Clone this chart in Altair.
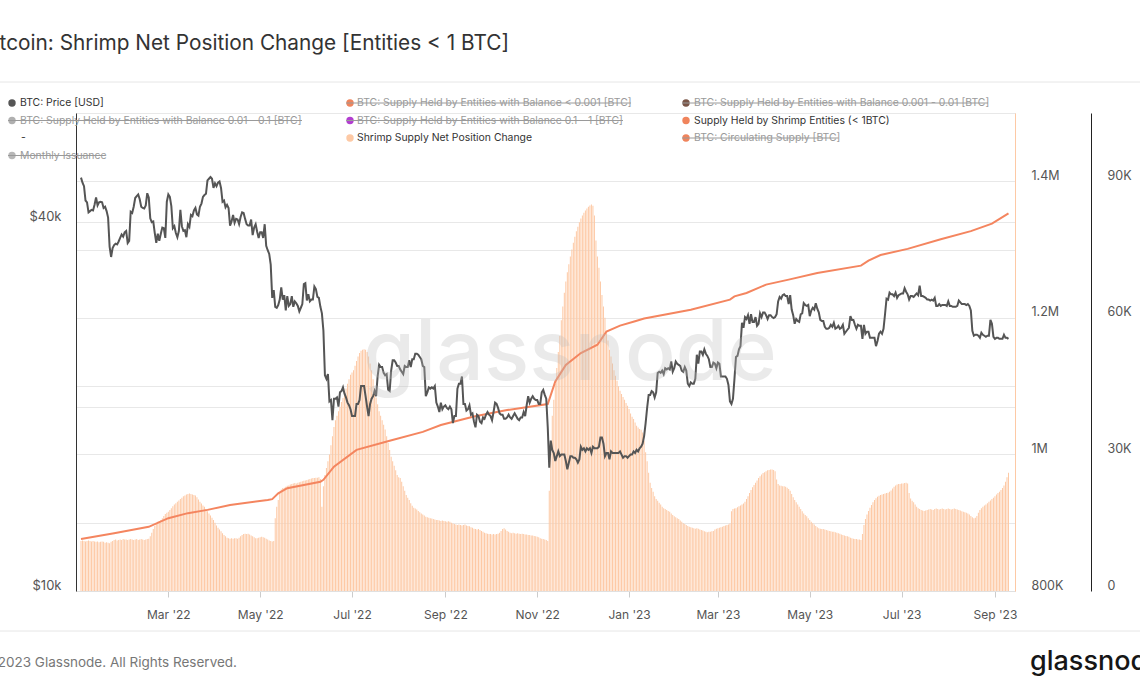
import altair as alt
import pandas as pd

# ---------------- data ----------------
# BTC price, daily, thousands of USD, from 2022-01-02
price_2022_k = [
    47.3, 46.4, 45.8, 43.4, 43.1, 41.5, 41.7, 41.9, 41.8, 42.7, 43.9, 42.6, 43.1, 43.2, 43.1, 42.2, 42.4, 41.7, 40.7, 36.5, 35.1, 36.3, 36.7, 36.9, 36.8, 37.2, 37.7, 38.2, 37.9, 38.5,
    38.7, 37.0, 37.3, 41.6, 41.4, 42.4, 43.8, 44.1, 44.4, 43.6, 42.4, 42.2, 42.1, 42.6, 44.6, 43.9, 40.6, 40.0, 40.1, 38.4, 37.0, 38.3, 37.3, 38.3, 39.2, 39.1, 37.7, 43.2,
    44.4, 44.0, 42.5, 39.1, 39.4, 38.4, 37.8, 38.7, 41.9, 39.4, 38.7, 38.8, 37.8, 39.7, 39.3, 41.1, 40.9, 41.8, 42.2, 41.2, 41.0, 42.4, 42.9, 44.0, 44.3, 44.5, 46.8, 47.1, 47.4, 47.1, 45.5,
    46.3, 45.8, 46.4, 46.6, 45.5, 43.2, 43.4, 42.3, 42.7, 42.2, 39.5, 40.1, 41.1, 39.9, 40.5, 40.4, 39.7, 40.8, 41.5, 41.4, 40.5, 39.7, 39.5, 39.5, 40.4, 38.1, 39.2, 39.7, 38.6, 37.7,
    38.5, 38.5, 37.7, 39.7, 36.6, 36.0, 35.5, 34.1, 30.1, 31.0, 29.1, 29.0, 29.3, 29.9, 31.3, 29.9, 30.4, 28.7, 30.3, 29.2, 29.4, 30.3, 29.1, 29.7, 29.5, 29.2, 28.6, 29.0, 29.4, 31.7, 31.8,
    29.8, 30.5, 29.7, 29.9, 29.9, 31.4, 31.1, 30.2, 30.1, 29.1, 28.4, 26.6, 22.5, 22.2, 22.6, 20.4, 20.5, 19.0, 20.6, 20.6, 20.7, 20.0, 21.1, 21.2, 21.5, 21.0, 20.7, 20.3, 20.1, 19.8,
    19.3, 19.3, 19.3, 20.2, 20.2, 20.5, 21.6, 21.6, 21.6, 20.8, 20.0, 19.3, 20.2, 20.6, 20.8, 21.2, 20.8, 22.4, 23.4, 23.2, 23.2, 22.7, 22.5, 22.6, 21.3, 21.2, 22.9, 23.8, 23.8, 23.6, 23.3,
    23.3, 23.0, 22.8, 22.6, 23.3, 23.2, 23.2, 23.8, 23.2, 23.9, 23.9, 24.4, 24.4, 24.3, 24.1, 23.9, 23.3, 23.2, 20.8, 21.1, 21.5, 21.4, 21.5, 21.4, 21.6, 20.3, 20.0, 19.6, 20.3, 19.8, 20.0,
    20.1, 19.9, 19.8, 20.0, 19.8, 18.8, 19.3, 19.3, 21.4, 21.8, 21.8, 22.4, 20.2, 20.2, 19.7, 19.8, 20.1, 19.4, 19.5, 18.9, 18.5, 19.4, 19.3, 18.9, 18.8, 19.2, 19.1, 19.4, 19.6, 19.4,
    19.3, 19.0, 19.6, 20.3, 20.2, 19.9, 19.5, 19.4, 19.4, 19.1, 19.1, 19.2, 19.4, 19.2, 19.1, 19.3, 19.5, 19.3, 19.1, 19.0, 19.2, 19.2, 19.6, 19.3, 20.1, 20.8, 20.3, 20.6, 20.8, 20.6, 20.5,
    20.5, 20.2, 20.2, 21.1, 21.3, 20.9, 20.6, 18.5, 15.9, 17.6, 17.0, 16.8, 16.3, 16.6, 16.9, 16.6, 16.7, 16.7, 16.7, 16.3, 15.8, 16.2, 16.6, 16.6, 16.5, 16.5, 16.4, 16.2, 16.4, 17.2,
    17.0, 17.1, 16.9, 17.1, 17.0, 17.1, 16.8, 17.2, 17.1, 17.1, 17.1, 17.2, 17.8, 17.8, 17.4, 16.6, 16.8, 16.8, 16.4, 16.9, 16.8, 16.8, 16.8, 16.8, 16.8, 16.9, 16.7, 16.5, 16.6, 16.6, 16.5,
]
price_2023_k = [
    16.6, 16.7, 16.7, 16.9, 16.8, 17.0, 16.9, 17.1, 17.2, 17.4, 17.9, 18.8, 19.9, 20.9, 20.9, 21.2, 21.1, 20.7, 21.1, 22.7, 22.8, 22.7, 22.9, 22.6, 23.1, 23.0, 23.1, 23.0, 23.7, 22.8, 23.1,
    23.7, 23.5, 23.4, 23.3, 22.9, 22.8, 23.2, 22.9, 21.8, 21.6, 21.9, 21.8, 21.8, 22.2, 24.3, 23.5, 24.6, 24.6, 24.3, 24.8, 24.4, 24.2, 23.9, 23.2, 23.2, 23.6, 23.5, 23.1,
    23.6, 23.5, 22.4, 22.4, 22.4, 22.4, 22.2, 21.7, 20.4, 20.2, 20.6, 22.2, 24.1, 24.2, 24.8, 25.1, 27.4, 26.9, 28.0, 27.8, 28.2, 27.3, 28.3, 27.5, 27.5, 28.0, 27.1, 27.3, 28.4, 28.0, 28.5,
    28.5, 28.2, 27.8, 28.2, 28.2, 28.0, 27.9, 28.0, 28.3, 29.7, 30.2, 30.0, 30.4, 30.5, 30.3, 30.3, 29.4, 30.4, 28.8, 28.2, 27.3, 27.8, 27.6, 27.5, 28.3, 28.4, 29.5, 29.3, 29.2, 29.3,
    28.1, 28.7, 29.0, 28.8, 29.5, 28.9, 28.5, 27.7, 27.6, 27.6, 27.0, 26.8, 26.8, 26.9, 27.2, 27.0, 27.4, 26.8, 26.9, 27.1, 26.8, 26.9, 27.2, 26.3, 26.5, 26.7, 26.9, 28.1, 27.7, 27.7, 27.2,
    26.8, 27.2, 27.1, 27.1, 25.8, 27.2, 26.3, 26.5, 26.5, 25.9, 25.9, 25.9, 25.9, 25.1, 25.6, 26.3, 26.5, 26.3, 26.8, 28.3, 30.0, 29.9, 30.7, 30.5, 30.5, 30.3, 30.7, 30.1, 30.4, 30.5,
    30.6, 30.6, 31.2, 30.8, 30.5, 29.9, 30.3, 30.3, 30.2, 30.4, 30.6, 30.4, 31.5, 30.3, 30.3, 30.2, 30.1, 29.9, 29.9, 29.8, 29.9, 29.8, 30.1, 29.2, 29.2, 29.4, 29.2, 29.3, 29.3, 29.3, 29.2,
    29.7, 29.2, 29.2, 29.1, 29.1, 29.1, 29.2, 29.8, 29.6, 29.4, 29.4, 29.4, 29.3, 29.4, 29.2, 28.7, 26.6, 26.1, 26.2, 26.2, 26.1, 25.9, 26.4, 26.2, 26.1, 26.0, 26.1, 26.1, 27.7, 27.3, 26.0,
    25.8, 25.9, 25.9, 25.8, 25.8, 25.8, 26.2, 25.9, 25.9, 25.8,
]

# Shrimp Supply Net Position Change, daily, thousands of BTC, from 2022-01-02
net_change_2022_k = [
    11.0, 11.1, 11.0, 10.9, 11.0, 11.1, 11.0, 10.9, 11.0, 10.9, 10.8, 10.9, 10.7, 10.8, 10.9, 10.8, 10.6, 10.7, 10.6, 10.5, 10.8, 11.0, 11.2, 11.3, 11.1, 11.2, 11.3, 11.2, 11.4, 11.3,
    11.3, 11.2, 11.3, 11.4, 11.3, 11.2, 11.3, 11.4, 11.2, 11.3, 11.4, 11.3, 11.2, 11.3, 11.4, 11.5, 12.0, 12.8, 13.6, 14.3, 14.9, 15.2, 15.4, 15.6, 16.0, 16.5, 16.9, 17.2,
    17.4, 17.8, 18.2, 18.6, 19.0, 19.3, 19.6, 19.9, 20.2, 20.5, 20.8, 21.0, 21.2, 21.3, 21.4, 21.3, 21.2, 21.1, 21.0, 20.6, 20.1, 19.6, 19.2, 18.8, 18.5, 18.0, 17.5, 17.0, 16.6, 16.1, 15.6,
    15.0, 14.4, 13.9, 13.5, 13.1, 12.7, 12.3, 12.0, 11.7, 11.6, 11.5, 11.6, 11.5, 11.6, 11.6, 11.5, 11.7, 12.0, 12.3, 12.5, 12.6, 12.5, 12.6, 12.4, 12.2, 12.0, 11.8, 11.6, 11.6, 11.7,
    11.8, 11.9, 11.8, 11.7, 11.5, 11.3, 11.1, 11.0, 10.9, 11.0, 16.0, 18.5, 20.0, 21.5, 22.3, 22.6, 22.7, 22.9, 23.1, 23.2, 23.4, 23.5, 23.6, 23.7, 23.6, 23.8, 23.9, 24.0, 24.1, 24.2, 24.3,
    24.4, 24.5, 24.6, 24.7, 24.8, 24.8, 24.9, 24.9, 25.0, 24.6, 18.5, 23.0, 25.5, 27.0, 28.5, 30.0, 32.0, 34.0, 36.0, 37.5, 38.5, 39.5, 40.5, 41.5, 42.4, 43.5, 44.5, 45.5, 46.5, 47.5,
    48.0, 48.5, 49.5, 50.5, 51.5, 52.3, 52.8, 53.0, 53.1, 53.0, 52.5, 51.5, 50.0, 48.5, 46.5, 44.5, 42.5, 41.0, 39.5, 38.5, 37.5, 36.5, 35.5, 34.0, 32.5, 31.0, 29.5, 28.5, 27.5, 26.5, 25.5,
    25.0, 24.8, 24.0, 23.0, 22.0, 21.1, 20.5, 20.0, 19.3, 18.7, 18.3, 18.1, 17.9, 17.6, 17.3, 17.0, 16.8, 16.6, 16.3, 16.2, 16.1, 16.0, 15.9, 15.8, 15.7, 15.6, 15.6, 15.5, 15.4, 15.5, 15.4,
    15.3, 15.2, 15.3, 15.2, 15.0, 14.8, 14.7, 14.6, 14.5, 14.6, 14.5, 14.4, 14.5, 14.6, 14.4, 14.3, 14.2, 14.0, 13.9, 13.7, 13.6, 13.5, 13.6, 13.4, 13.2, 13.0, 12.8, 12.7, 12.6, 12.5,
    12.5, 12.4, 12.5, 12.4, 12.5, 12.6, 12.8, 13.2, 13.6, 13.8, 13.5, 13.2, 13.0, 12.8, 12.7, 12.8, 12.7, 12.6, 12.7, 12.6, 12.5, 12.6, 12.5, 12.4, 12.4, 12.3, 12.3, 12.2, 12.2, 12.1, 12.0,
    11.9, 11.8, 11.6, 11.5, 11.4, 11.3, 11.2, 11.0, 22.0, 33.0, 38.5, 42.0, 45.5, 49.0, 52.5, 56.0, 59.5, 62.5, 65.5, 68.0, 70.0, 71.8, 73.5, 75.0, 76.5, 77.8, 79.0, 80.0, 81.0, 81.8,
    82.5, 83.1, 83.6, 84.0, 84.4, 84.7, 84.9, 84.6, 82.5, 77.0, 73.5, 71.0, 68.0, 65.0, 62.5, 60.0, 57.0, 55.0, 53.0, 51.5, 50.0, 48.5, 47.3, 46.2, 45.0, 44.0, 43.3, 42.6, 42.0, 41.3, 40.7,
]
net_change_2023_k = [
    40.0, 39.0, 38.3, 37.8, 37.0, 36.3, 35.9, 35.6, 35.4, 34.8, 33.0, 30.5, 28.5, 26.0, 23.8, 22.6, 21.8, 20.8, 20.2, 19.8, 19.4, 19.0, 18.5, 18.2, 18.0, 17.8, 17.6, 17.4, 17.0, 16.7, 16.4,
    16.2, 16.0, 15.8, 15.5, 15.2, 14.9, 14.7, 14.5, 14.3, 14.1, 14.0, 13.9, 13.8, 13.7, 13.8, 13.7, 13.5, 13.4, 13.3, 13.1, 13.0, 12.9, 13.0, 13.0, 13.1, 13.2, 13.5, 13.7,
    13.8, 13.9, 14.0, 14.1, 14.3, 14.4, 14.5, 14.6, 14.8, 17.5, 18.0, 18.1, 18.2, 18.4, 18.6, 18.8, 19.0, 19.2, 19.6, 20.2, 20.8, 21.5, 22.2, 22.8, 23.3, 23.8, 24.3, 24.8, 25.2, 25.6, 25.9,
    26.1, 26.3, 26.5, 26.6, 26.7, 26.7, 26.6, 26.3, 24.5, 23.5, 23.2, 23.1, 23.0, 23.0, 22.9, 22.7, 22.4, 22.0, 21.3, 20.6, 20.0, 19.5, 19.0, 18.5, 18.0, 17.5, 17.0, 16.7, 16.4, 16.0,
    15.6, 15.2, 14.9, 14.6, 14.3, 14.0, 13.8, 13.7, 13.6, 13.6, 13.5, 13.4, 13.3, 13.2, 13.1, 13.0, 13.0, 12.9, 12.8, 12.7, 12.6, 12.4, 12.3, 12.2, 12.1, 12.0, 11.9, 11.7, 11.6, 11.5, 11.4,
    11.4, 11.3, 11.3, 11.2, 12.5, 14.5, 15.8, 16.8, 17.6, 18.3, 18.9, 19.5, 20.0, 20.4, 20.7, 20.9, 21.1, 21.2, 21.3, 21.4, 21.5, 21.6, 21.8, 22.1, 22.5, 22.9, 23.2, 23.4, 23.5, 23.5,
    23.6, 23.6, 23.7, 23.8, 23.6, 21.5, 20.3, 19.8, 19.5, 19.0, 18.5, 18.2, 18.0, 17.8, 17.7, 17.6, 17.7, 17.8, 17.9, 18.0, 17.9, 17.8, 18.0, 18.1, 18.0, 17.9, 18.0, 18.1, 18.0, 17.9, 18.0,
    18.1, 18.0, 17.9, 18.0, 18.1, 18.0, 17.9, 17.8, 17.7, 17.5, 17.4, 17.3, 17.2, 17.0, 16.8, 16.5, 16.2, 16.0, 16.1, 16.5, 17.2, 17.8, 18.2, 18.5, 18.8, 19.0, 19.3, 19.6, 19.9, 20.2, 20.5,
    20.8, 21.2, 21.5, 21.8, 22.2, 22.6, 23.2, 24.0, 25.0, 26.0,
]

# Supply Held by Shrimp Entities (< 1 BTC), thousands of BTC
supply_dates = [
    "2022-01-02", "2022-01-24", "2022-02-16", "2022-03-01", "2022-03-14", "2022-03-27", "2022-04-11",
    "2022-05-06", "2022-05-09", "2022-05-13", "2022-05-19", "2022-06-10", "2022-06-12", "2022-06-19",
    "2022-07-04", "2022-07-26", "2022-08-17", "2022-08-29", "2022-09-20", "2022-10-12", "2022-11-08",
    "2022-11-13", "2022-11-20", "2022-11-30", "2022-12-11", "2022-12-17", "2022-12-26", "2023-01-05",
    "2023-01-11", "2023-02-11", "2023-03-09", "2023-03-12", "2023-03-20", "2023-04-02", "2023-04-17",
    "2023-05-06", "2023-06-04", "2023-06-09", "2023-06-17", "2023-07-05", "2023-07-27", "2023-08-16",
    "2023-08-30", "2023-09-10",
]
supply_k = [
    876, 884.6, 894, 906.6, 914, 918.8, 926,
    933.4, 934.5, 943, 950.6, 960, 962.8, 982,
    1006.7, 1020, 1033, 1043, 1055.6, 1065, 1073.7,
    1107, 1131, 1148.5, 1160.7, 1180, 1188.6, 1195,
    1199, 1212, 1226.7, 1231.5, 1236.5, 1248.7, 1256,
    1265.8, 1276.5, 1283.9, 1292, 1301, 1315, 1327,
    1338, 1353,
]

x_tick_months = [(2022, 3), (2022, 5), (2022, 7), (2022, 9), (2022, 11),
                 (2023, 1), (2023, 3), (2023, 5), (2023, 7), (2023, 9)]
price_ticks = [10000, 20000, 40000]
supply_ticks = [800000, 900000, 1000000, 1100000, 1200000, 1300000, 1400000, 1500000]
net_ticks = [0, 30000, 60000, 90000]

title_text = "Bitcoin: Shrimp Net Position Change [Entities < 1 BTC]"
footer_text = "© 2023 Glassnode. All Rights Reserved."
brand_text = "glassnode"

legend_labels = [
    "BTC: Price [USD]",
    "BTC: Supply Held by Entities with Balance < 0.001 [BTC]",
    "BTC: Supply Held by Entities with Balance 0.001 - 0.01 [BTC]",
    "BTC: Supply Held by Entities with Balance 0.01 - 0.1 [BTC]",
    "BTC: Supply Held by Entities with Balance 0.1 - 1 [BTC]",
    "Supply Held by Shrimp Entities (< 1BTC)",
    "-",
    "Shrimp Supply Net Position Change",
    "BTC: Circulating Supply [BTC]",
    "Monthly Issuance",
]
legend_active = [True, False, False, False, False, True, True, True, False, False]

# ---------------- styles / layout ----------------
FONT = "Inter"
PEACH = "#fdc9a5"
ORANGE = "#f4855f"
PRICE_C = "#555555"
GRID = "#e8e8e8"
legend_dot_colors = ["#555555", "#f0845c", "#7a5648", "#b0b0b0", "#b23fd0", "#f0845c",
                     None, "#fdc9a5", "#f0845c", "#b8b8b8"]
# (dot x, text x, row y, strike end x)
legend_layout = [
    (12, 20, 103, None), (350, 357, 103, 631), (686, 694, 103, 988),
    (12, 20, 120.5, 302), (350, 357, 120.5, 623), (686, 694, 120.5, None),
    (None, 21, 138, None), (350, 357, 138, None), (686, 694, 138, 838.5),
    (12, 20, 155.5, 105),
]
X0, Y0 = 76, 113          # plot origin in the page
W, H = 939, 478           # plot size

# ---------------- tables ----------------
prices = [v * 1000 for v in price_2022_k + price_2023_k]
nets = [v * 1000 for v in net_change_2022_k + net_change_2023_k]
dates = pd.date_range("2022-01-02", periods=len(prices), freq="D")
daily = pd.DataFrame({"date": dates, "price": prices, "net": nets[:len(prices)]})
supply_df = pd.DataFrame({"date": pd.to_datetime(supply_dates), "supply": [v * 1000 for v in supply_k]})

x_enc = alt.X(
    "date:T",
    title=None,
    scale=alt.Scale(domain=[alt.DateTime(year=2022, month=1, date=2),
                            alt.DateTime(year=2023, month=9, date=11)]),
    axis=alt.Axis(
        values=[alt.DateTime(year=y, month=m, date=1) for y, m in x_tick_months],
        format="%b '%y", labelFont=FONT, labelFontSize=12, labelColor="#555555",
        tickColor="#cccccc", tickSize=6, domainColor="#e0e0e0", labelPadding=12,
        grid=False,
    ),
)

bars = alt.Chart(daily).mark_bar(width=1.0, color=PEACH).encode(
    x=x_enc,
    y=alt.Y("net:Q", title=None,
            scale=alt.Scale(domain=[0, 105000], nice=False, zero=True),
            axis=alt.Axis(orient="right", offset=76, values=net_ticks, grid=False,
                          labelExpr="datum.value == 0 ? '0' : format(datum.value / 1000, 'd') + 'K'",
                          domainColor="#222222", ticks=False, labelPadding=16,
                          labelOffset=-6, labelFont=FONT, labelFontSize=12.5,
                          labelColor="#555555")),
)

supply = alt.Chart(supply_df).mark_line(color=ORANGE, strokeWidth=2).encode(
    x=x_enc,
    y=alt.Y("supply:Q", title=None,
            scale=alt.Scale(domain=[800000, 1500000], nice=False, zero=False),
            axis=alt.Axis(orient="right", values=supply_ticks, grid=True, gridColor=GRID,
                          labelExpr="datum.value % 200000 != 0 ? '' : (datum.value >= 1000000 ? format(datum.value / 1000000, '~g') + 'M' : format(datum.value / 1000, 'd') + 'K')",
                          domainColor=PEACH, ticks=False, labelPadding=16, labelOffset=-6,
                          labelFont=FONT, labelFontSize=12.5, labelColor="#555555")),
)

price = alt.Chart(daily).mark_line(color=PRICE_C, strokeWidth=2).encode(
    x=x_enc,
    y=alt.Y("price:Q", title=None,
            scale=alt.Scale(type="log", domain=[10000, 60300], nice=False),
            axis=alt.Axis(orient="left", values=price_ticks, grid=True, gridColor=GRID,
                          labelExpr="datum.value == 20000 ? '' : '$' + format(datum.value / 1000, 'd') + 'k'",
                          domainColor="#333333", ticks=False, labelPadding=15, labelOffset=-6,
                          labelFont=FONT, labelFontSize=13, labelColor="#555555")),
)

one = pd.DataFrame({"k": [0]})


def text_at(txt, x, y, size, color, align="left", weight="normal", opacity=1.0):
    return alt.Chart(pd.DataFrame({"t": [txt]})).mark_text(
        align=align, baseline="middle", font=FONT, fontSize=size, color=color,
        fontWeight=weight, opacity=opacity,
    ).encode(text="t:N", x=alt.value(x - X0), y=alt.value(y - Y0))


def hline(x1, x2, y, color, width=1.0):
    return alt.Chart(one).mark_rule(color=color, strokeWidth=width).encode(
        x=alt.value(x1 - X0), x2=alt.value(x2 - X0), y=alt.value(y - Y0))


def dot(x, y, color):
    return alt.Chart(one).mark_circle(size=55, color=color, opacity=1).encode(
        x=alt.value(x - X0), y=alt.value(y - Y0))


decor = [
    text_at(brand_text, 570, 355, 84, "#bdbdbd", align="center", weight=500, opacity=0.3),
    text_at(title_text, 509, 44, 20.8, "#333333", align="right"),
    hline(0, 1140, 82, "#e6e6e6"),
    hline(0, 1140, 631, "#e6e6e6"),
    text_at(footer_text, 237, 663, 13.5, "#777777", align="right"),
    text_at(brand_text, 1030, 662, 27, "#161616", weight=500),
]

for label, active, col, lay in zip(legend_labels, legend_active, legend_dot_colors, legend_layout):
    dx, tx, ty, strike_end = lay
    if col is not None and dx is not None:
        decor.append(dot(dx, ty, col))
    decor.append(text_at(label, tx, ty, 10.4, "#333333" if active else "#9a9a9a"))
    if strike_end is not None:
        decor.append(hline(dx - 4, strike_end, ty, "#9a9a9a"))

chart = alt.layer(bars, supply, price, *decor).resolve_scale(y="independent").properties(
    width=W, height=H,
    padding={"left": X0, "top": Y0, "right": 1140 - X0 - W, "bottom": 694 - Y0 - H},
    autosize=alt.AutoSizeParams(type="none"),
).configure_view(stroke=None).configure(background="white")

chart.save("out.html", embed_options={"renderer": "svg", "actions": False})
